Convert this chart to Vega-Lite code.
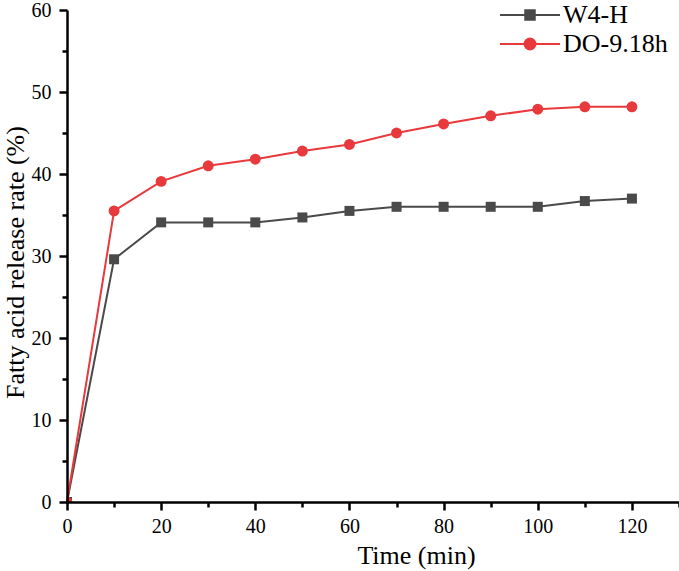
{
  "$schema": "https://vega.github.io/schema/vega-lite/v6.json",
  "width": 612,
  "height": 492,
  "autosize": {"type": "none"},
  "padding": {"left": 67, "top": 10, "right": 0, "bottom": 69},
  "background": "white",
  "config": {
    "view": {"stroke": null},
    "font": "Liberation Serif",
    "axis": {
      "labelFont": "Liberation Serif",
      "titleFont": "Liberation Serif"
    },
    "style": {
      "guide-label": {"font": "Liberation Serif", "fontWeight": "normal"},
      "guide-title": {"font": "Liberation Serif", "fontWeight": "normal"}
    }
  },
  "data": {
    "values": [
      {"t": 0, "rate": 0, "series": "W4-H"},
      {"t": 10, "rate": 29.6, "series": "W4-H"},
      {"t": 20, "rate": 34.1, "series": "W4-H"},
      {"t": 30, "rate": 34.1, "series": "W4-H"},
      {"t": 40, "rate": 34.1, "series": "W4-H"},
      {"t": 50, "rate": 34.7, "series": "W4-H"},
      {"t": 60, "rate": 35.5, "series": "W4-H"},
      {"t": 70, "rate": 36.0, "series": "W4-H"},
      {"t": 80, "rate": 36.0, "series": "W4-H"},
      {"t": 90, "rate": 36.0, "series": "W4-H"},
      {"t": 100, "rate": 36.0, "series": "W4-H"},
      {"t": 110, "rate": 36.7, "series": "W4-H"},
      {"t": 120, "rate": 37.0, "series": "W4-H"},
      {"t": 0, "rate": 0, "series": "DO-9.18h"},
      {"t": 10, "rate": 35.5, "series": "DO-9.18h"},
      {"t": 20, "rate": 39.1, "series": "DO-9.18h"},
      {"t": 30, "rate": 41.0, "series": "DO-9.18h"},
      {"t": 40, "rate": 41.8, "series": "DO-9.18h"},
      {"t": 50, "rate": 42.8, "series": "DO-9.18h"},
      {"t": 60, "rate": 43.6, "series": "DO-9.18h"},
      {"t": 70, "rate": 45.0, "series": "DO-9.18h"},
      {"t": 80, "rate": 46.1, "series": "DO-9.18h"},
      {"t": 90, "rate": 47.1, "series": "DO-9.18h"},
      {"t": 100, "rate": 47.9, "series": "DO-9.18h"},
      {"t": 110, "rate": 48.2, "series": "DO-9.18h"},
      {"t": 120, "rate": 48.2, "series": "DO-9.18h"}
    ]
  },
  "encoding": {
    "x": {
      "field": "t",
      "type": "quantitative",
      "scale": {"domain": [0, 130], "nice": false, "zero": false},
      "axis": {
        "title": "Time (min)",
        "grid": false,
        "zindex": 1,
        "domainColor": "black",
        "domainWidth": 2.5,
        "tickColor": "black",
        "tickWidth": 2.5,
        "labelFont": "Liberation Serif",
        "labelFontSize": 20,
        "labelFontWeight": "normal",
        "labelColor": "black",
        "titleFont": "Liberation Serif",
        "titleFontSize": 26,
        "titleFontWeight": "normal",
        "titleColor": "black",
        "values": [0, 10, 20, 30, 40, 50, 60, 70, 80, 90, 100, 110, 120, 130],
        "labelExpr": "datum.value % 20 === 0 && datum.value <= 120 ? datum.label : ''",
        "tickSize": {"condition": {"test": "datum.value % 20 === 0", "value": 8}, "value": 5},
        "labelPadding": 6,
        "labelFlush": false,
        "labelOverlap": false,
        "titleX": 349,
        "titleY": 61,
        "titleBaseline": "alphabetic"
      }
    },
    "y": {
      "field": "rate",
      "type": "quantitative",
      "scale": {"domain": [0, 60], "nice": false},
      "axis": {
        "title": "Fatty acid release rate (%)",
        "grid": false,
        "zindex": 1,
        "domainColor": "black",
        "domainWidth": 2.5,
        "tickColor": "black",
        "tickWidth": 2.5,
        "labelFont": "Liberation Serif",
        "labelFontSize": 20,
        "labelFontWeight": "normal",
        "labelColor": "black",
        "titleFont": "Liberation Serif",
        "titleFontSize": 26,
        "titleFontWeight": "normal",
        "titleColor": "black",
        "values": [0, 5, 10, 15, 20, 25, 30, 35, 40, 45, 50, 55, 60],
        "labelExpr": "datum.value % 10 === 0 ? datum.label : ''",
        "tickSize": {"condition": {"test": "datum.value % 10 === 0", "value": 8}, "value": 5},
        "labelPadding": 8,
        "labelFlush": false,
        "labelOverlap": false,
        "titleX": -44,
        "titleY": 252,
        "titleAngle": -90,
        "titleAlign": "center",
        "titleBaseline": "alphabetic"
      }
    }
  },
  "layer": [
    {
      "mark": {"type": "line", "strokeWidth": 2},
      "encoding": {
        "color": {
          "field": "series",
          "type": "nominal",
          "sort": ["W4-H", "DO-9.18h"],
          "scale": {"domain": ["W4-H", "DO-9.18h"], "range": ["#4a4a4a", "#e8393d"]},
          "legend": {
            "title": null,
            "orient": "none",
            "legendX": 450,
            "legendY": -8,
            "padding": 0,
            "rowPadding": 3,
            "symbolSize": 100,
            "symbolStrokeWidth": 2,
            "labelOffset": 20,
            "labelFont": "Liberation Serif",
            "labelFontSize": 26,
            "labelFontWeight": "normal",
            "labelColor": "black",
            "labelLimit": 200,
            "encode": {
              "symbols": {
                "update": {
                  "shape": [
                    {"test": "datum.value === 'W4-H'", "value": "M-6,0H6M-0.95,-0.95H0.95V0.95H-0.95Z"},
                    {"value": "M-6,0H6M-1.1,0A1.1,1.1 0 1,1 1.1,0A1.1,1.1 0 1,1 -1.1,0Z"}
                  ],
                  "fill": [
                    {"test": "datum.value === 'W4-H'", "value": "#4a4a4a"},
                    {"value": "#e8393d"}
                  ],
                  "stroke": [
                    {"test": "datum.value === 'W4-H'", "value": "#4a4a4a"},
                    {"value": "#e8393d"}
                  ],
                  "fillOpacity": {"value": 1},
                  "strokeWidth": {"value": 2}
                }
              }
            }
          }
        }
      }
    },
    {
      "transform": [{"filter": "datum.series === 'W4-H'"}],
      "mark": {"type": "point", "shape": "square", "filled": true, "opacity": 1, "size": 100, "color": "#4a4a4a", "clip": true}
    },
    {
      "transform": [{"filter": "datum.series === 'DO-9.18h'"}],
      "mark": {"type": "point", "shape": "circle", "filled": true, "opacity": 1, "size": 120, "color": "#e8393d", "clip": true}
    }
  ]
}
